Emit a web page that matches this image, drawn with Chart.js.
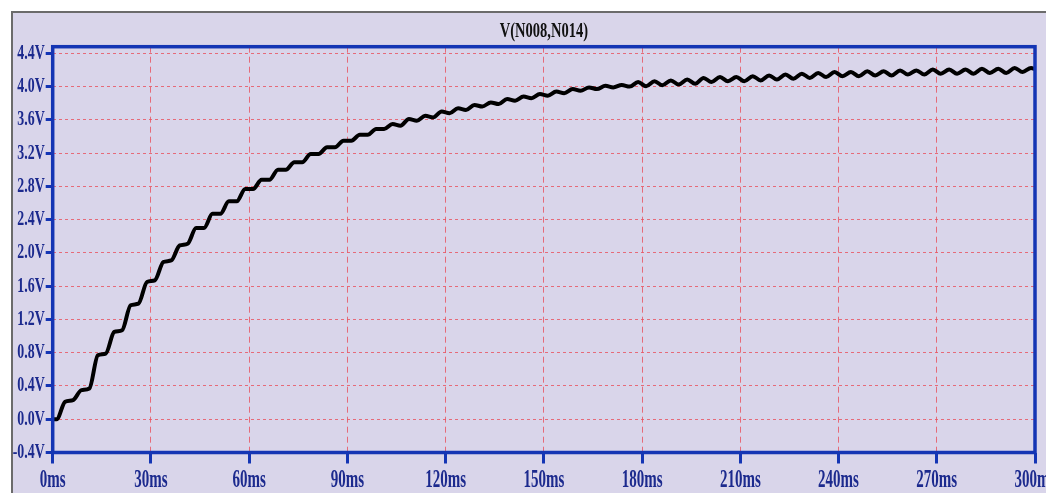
<!DOCTYPE html>
<html>
  <head>
    <meta charset="UTF-8" />
    <title>V(N008,N014)</title>
    <script src="https://cdn.jsdelivr.net/npm/chart.js"></script>
    <style type="text/css">
      body{
          margin:0;
          background:#ffffff;
      }
      #panel{
          position:absolute;
          left:11px;
          top:11px;
          width:1035px;
          height:482px;
          background:#d9d5ea;
          border-left:2px solid #6b6b6b;
          border-top:2px solid #6b6b6b;
      }
      #plot{
          position:absolute;
          left:0;
          top:0;
      }
    </style>
  </head>

  <body>
    <div id="panel"></div>
    <canvas id="plot" width="1046" height="493"></canvas>

    <script>
      // time axis (ms) and voltage readings, two samples per 5 ms ripple period
      var timeMs = [0, 1.2,
        3.8, 6.2, 8.8, 11.2, 13.8, 16.2, 18.8, 21.2, 23.8, 26.2, 28.8, 31.2, 33.8, 36.2, 38.8, 41.2, 43.8, 46.2,
        48.8, 51.2, 53.8, 56.2, 58.8, 61.2, 63.8, 66.2, 68.8, 71.2, 73.8, 76.2, 78.8, 81.2, 83.8, 86.2, 88.8, 91.2, 93.8, 96.2,
        98.8, 101.2, 103.8, 106.2, 108.8, 111.2, 113.8, 116.2, 118.8, 121.2, 123.8, 126.2, 128.8, 131.2, 133.8, 136.2, 138.8, 141.2, 143.8, 146.2,
        148.8, 151.2, 153.8, 156.2, 158.8, 161.2, 163.8, 166.2, 168.8, 171.2, 173.8, 176.2, 178.8, 181.2, 183.8, 186.2, 188.8, 191.2, 193.8, 196.2,
        198.8, 201.2, 203.8, 206.2, 208.8, 211.2, 213.8, 216.2, 218.8, 221.2, 223.8, 226.2, 228.8, 231.2, 233.8, 236.2, 238.8, 241.2, 243.8, 246.2,
        248.8, 251.2, 253.8, 256.2, 258.8, 261.2, 263.8, 266.2, 268.8, 271.2, 273.8, 276.2, 278.8, 281.2, 283.8, 286.2, 288.8, 291.2, 293.8, 296.2,
        298.8, 300];

      var volts = [0, 0,
        0.21, 0.23, 0.35, 0.37, 0.77, 0.79, 1.05, 1.07, 1.37, 1.39, 1.65, 1.67, 1.89, 1.91, 2.09, 2.11, 2.30, 2.30,
        2.47, 2.47, 2.62, 2.62, 2.77, 2.77, 2.88, 2.88, 3.00, 3.00, 3.09, 3.09, 3.19, 3.19, 3.27, 3.27, 3.35, 3.35, 3.42, 3.42,
        3.49, 3.49, 3.55, 3.53, 3.61, 3.59, 3.65, 3.63, 3.70, 3.68, 3.74, 3.72, 3.78, 3.76, 3.81, 3.79, 3.85, 3.83, 3.88, 3.86,
        3.91, 3.89, 3.94, 3.92, 3.97, 3.95, 3.99, 3.97, 4.01, 3.99, 4.02, 4.00, 4.055, 4.005, 4.065, 4.015, 4.075, 4.025, 4.085, 4.035,
        4.105, 4.055, 4.115, 4.065, 4.115, 4.065, 4.125, 4.075, 4.135, 4.085, 4.145, 4.095, 4.155, 4.105, 4.165, 4.115, 4.175, 4.125, 4.175, 4.125,
        4.185, 4.135, 4.185, 4.135, 4.195, 4.145, 4.195, 4.145, 4.205, 4.155, 4.205, 4.155, 4.205, 4.155, 4.215, 4.165, 4.215, 4.165, 4.225, 4.175,
        4.225, 4.21];

      var xTicks = [0, 30, 60, 90, 120, 150, 180, 210, 240, 270, 300];
      var yTicks = [-0.4, 0.0, 0.4, 0.8, 1.2, 1.6, 2.0, 2.4, 2.8, 3.2, 3.6, 4.0, 4.4];
      var traceName = "V(N008,N014)";

      var blue = "#1435b4";
      var labelBlue = "#1c2a8e";
      var gridRed = "rgba(232,80,92,0.8)";

      var points = [];
      for (var i = 0; i < timeMs.length; i++) {
        points.push({ x: timeMs[i], y: volts[i] });
      }

      function yLabel(v){ return v.toFixed(1) + "V"; }
      function xLabel(v){ return v + "ms"; }

      // squeezed serif text, the way the scope window draws it
      function squeezed(ctx, text, x, y, font, color, sx, align){
        ctx.save();
        ctx.translate(x, y);
        ctx.scale(sx, 1);
        ctx.font = font;
        ctx.fillStyle = color;
        ctx.textAlign = align;
        ctx.textBaseline = "middle";
        ctx.fillText(text, 0, 0);
        ctx.restore();
      }

      var scopeDecor = {
        id: "scopeDecor",
        afterDraw: function(chart){
          var ctx = chart.ctx;
          var a = chart.chartArea;
          var xs = chart.scales.x;
          var ys = chart.scales.y;

          // plot frame
          ctx.save();
          ctx.strokeStyle = blue;
          ctx.lineWidth = 3.5;
          ctx.strokeRect(a.left, a.top, a.right - a.left, a.bottom - a.top);
          ctx.restore();

          squeezed(ctx, traceName, (a.left + a.right) / 2, 31, 'bold 22px "Liberation Serif"', "#111111", 0.66, "center");

          yTicks.forEach(function(v){
            squeezed(ctx, yLabel(v), a.left - 8, ys.getPixelForValue(v), 'bold 21px "Liberation Serif"', labelBlue, 0.66, "right");
          });
          xTicks.forEach(function(v){
            squeezed(ctx, xLabel(v), xs.getPixelForValue(v), 481, 'bold 25px "Liberation Serif"', labelBlue, 0.6, "center");
          });
        }
      };

      new Chart(document.getElementById("plot"), {
        type: "line",
        data: {
          datasets: [{
            label: traceName,
            data: points,
            borderColor: "#000000",
            borderWidth: 4,
            borderJoinStyle: "round",
            borderCapStyle: "round",
            cubicInterpolationMode: "monotone",
            pointRadius: 0,
            fill: false
          }]
        },
        options: {
          responsive: false,
          animation: false,
          devicePixelRatio: 1,
          layout: { padding: { top: 46.7, right: 11, left: 0, bottom: 0 } },
          plugins: {
            legend: { display: false },
            tooltip: { enabled: false },
            title: { display: false }
          },
          scales: {
            x: {
              type: "linear",
              min: 0,
              max: 300,
              afterBuildTicks: function(scale){
                scale.ticks = xTicks.map(function(v){ return { value: v }; });
              },
              afterFit: function(scale){ scale.height = 40.5; },
              ticks: { display: false },
              border: { display: false, dash: [6, 4] },
              grid: {
                color: gridRed,
                lineWidth: 1,
                tickColor: blue,
                tickWidth: 3,
                tickLength: 11
              }
            },
            y: {
              type: "linear",
              min: -0.4,
              max: 4.48,
              afterBuildTicks: function(scale){
                scale.ticks = yTicks.map(function(v){ return { value: v }; });
              },
              afterFit: function(scale){ scale.width = 52.7; },
              ticks: { display: false },
              border: { display: false, dash: [3, 3] },
              grid: {
                color: gridRed,
                lineWidth: 1,
                tickColor: blue,
                tickWidth: 3,
                tickLength: 7
              }
            }
          }
        },
        plugins: [scopeDecor]
      });
    </script>
  </body>
</html>
